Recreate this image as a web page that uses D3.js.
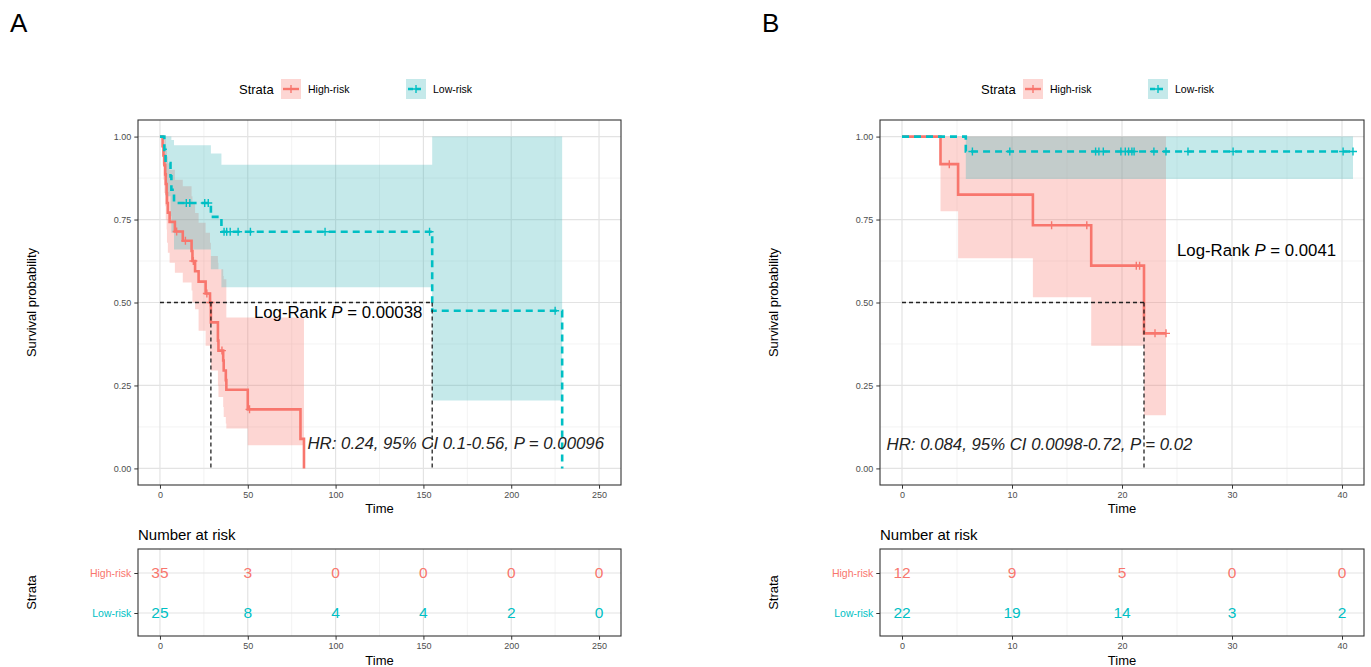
<!DOCTYPE html>
<meta charset="utf-8">
<script src="https://d3js.org/d3.v7.min.js"></script>
<style>
body { margin: 0; background: #fff; }
text { font-family: "Liberation Sans", Arial, sans-serif; }
.tick text { font-size: 9px; fill: #4d4d4d; }
.axisTitle { font-size: 13px; fill: #000; }
</style>
<body>
<svg id="chart" width="1371" height="667"></svg>
<script>

const strata = ["High-risk", "Low-risk"];
const colors = ["#F8766D", "#00BFC4"];
const bandColors = ["#F8766D", "#3FB6B8"];
const survBreaks = [0, 0.25, 0.5, 0.75, 1];
const survMinor = [0.125, 0.375, 0.625, 0.875];

// ---- panel A ----
const aBreaks = [0, 50, 100, 150, 200, 250];
const aHighTime = [0, 1.5, 2, 2.5, 3, 3.3, 3.8, 4, 4.5, 5.5, 8.5, 13, 18, 18.5, 20, 22, 26, 28.5, 29, 33, 33.3, 36, 36.3, 37.5, 37.8, 50, 80, 82];
const aHighSurv = [1, 0.971, 0.943, 0.914, 0.886, 0.857, 0.829, 0.80, 0.771, 0.743, 0.714, 0.686, 0.655, 0.625, 0.594, 0.563, 0.527, 0.50, 0.44, 0.385, 0.355, 0.325, 0.295, 0.266, 0.237, 0.178, 0.089, 0];
const aHighLower = [1, 0.915, 0.87, 0.83, 0.79, 0.75, 0.72, 0.68, 0.65, 0.62, 0.59, 0.56, 0.536, 0.50, 0.48, 0.415, 0.37, 0.33, 0.295, 0.25, 0.215, 0.185, 0.155, 0.135, 0.12, 0.07, 0.07, 0.07];
const aHighUpper = [1, 1, 1, 1, 0.99, 0.97, 0.96, 0.94, 0.92, 0.90, 0.87, 0.85, 0.82, 0.80, 0.77, 0.74, 0.71, 0.68, 0.64, 0.62, 0.60, 0.58, 0.57, 0.57, 0.455, 0.455, 0.455, 0.455];
const aHighCensor = [9.5, 14.5, 19, 26.7, 28.7, 35.3, 51];

const aLowTime = [0, 2.5, 3.2, 6, 6.5, 8, 29, 35, 155, 229];
const aLowSurv = [1, 0.96, 0.92, 0.88, 0.84, 0.80, 0.758, 0.713, 0.475, 0];
const aLowLower = [1, 0.886, 0.82, 0.76, 0.71, 0.66, 0.60, 0.546, 0.205, 0.205];
const aLowUpper = [1, 1, 1, 1, 0.99, 0.974, 0.949, 0.915, 1, 1];
const aLowCensor = [15, 17, 25.5, 27.5, 36.5, 38, 40, 44.5, 51.5, 94, 153.5, 225];

const aMedian = [29, 155];
const aRiskHigh = [35, 3, 0, 0, 0, 0];
const aRiskLow = [25, 8, 4, 4, 2, 0];

// ---- panel B ----
const bBreaks = [0, 10, 20, 30, 40];
const bHighTime = [0, 3.5, 5.1, 11.9, 17.2, 22, 24];
const bHighSurv = [1, 0.917, 0.825, 0.733, 0.611, 0.407, 0.407];
const bHighLower = [1, 0.775, 0.633, 0.516, 0.37, 0.16, 0.16];
const bHighUpper = [1, 1, 1, 1, 1, 1, 1];
const bHighCensor = [4.3, 13.6, 16.8, 21.3, 21.6, 23, 24];

const bLowTime = [0, 5.8, 41];
const bLowSurv = [1, 0.955, 0.955];
const bLowLower = [1, 0.872, 0.872];
const bLowUpper = [1, 1, 1];
const bLowCensor = [6.4, 9.8, 17.6, 17.9, 18.3, 19.9, 20.3, 20.6, 20.9, 21.1, 22.9, 24, 26, 30.1, 40.1, 41];

const bMedian = [22];
const bRiskHigh = [12, 9, 5, 0, 0];
const bRiskLow = [22, 19, 14, 3, 2];

const panels = [
  {
    label: "A", labelX: 10, left: 138, right: 621, xDomain: [-12.5, 262.5], breaks: aBreaks,
    curves: [
      {time: aHighTime, surv: aHighSurv, lo: aHighLower, up: aHighUpper, cens: aHighCensor},
      {time: aLowTime, surv: aLowSurv, lo: aLowLower, up: aLowUpper, cens: aLowCensor}
    ],
    medians: aMedian, risk: [aRiskHigh, aRiskLow],
    logrank: {t: 53.5, s: 0.452, p: "0.00038"},
    hr: {t: 84, s: 0.057, text: "HR: 0.24, 95% CI 0.1-0.56, P = 0.00096"}
  },
  {
    label: "B", labelX: 762, left: 880, right: 1364, xDomain: [-2, 42], breaks: bBreaks,
    curves: [
      {time: bHighTime, surv: bHighSurv, lo: bHighLower, up: bHighUpper, cens: bHighCensor},
      {time: bLowTime, surv: bLowSurv, lo: bLowLower, up: bLowUpper, cens: bLowCensor}
    ],
    medians: bMedian, risk: [bRiskHigh, bRiskLow],
    logrank: {t: 25, s: 0.639, p: "0.0041"},
    hr: {t: -1.4, s: 0.054, text: "HR: 0.084, 95% CI 0.0098-0.72, P = 0.02"}
  }
];

const svg = d3.select("#chart");
const plotTop = 120, plotBottom = 485;
const riskTop = 549, riskBottom = 636;

function minorOf(br) {
  const out = [];
  for (let i = 0; i < br.length - 1; i++) out.push((br[i] + br[i + 1]) / 2);
  return out;
}

function plus(sel, color) {
  sel.append("path")
    .attr("d", "M-4,0H4M0,-4V4")
    .attr("stroke", color)
    .attr("stroke-width", 1.4)
    .attr("fill", "none");
}

function stepAt(c, t) {
  let i = d3.bisectRight(c.time, t) - 1;
  return c.surv[Math.max(0, i)];
}

function styleAxis(g) {
  g.select(".domain").remove();
  g.selectAll(".tick line").attr("stroke", "#333").attr("stroke-width", 1);
}

panels.forEach(p => {
  const g = svg.append("g");
  const x = d3.scaleLinear().domain(p.xDomain).range([p.left, p.right]);
  const y = d3.scaleLinear().domain([-0.05, 1.05]).range([plotBottom, plotTop]);
  const minor = minorOf(p.breaks);

  // panel label
  g.append("text").attr("x", p.labelX).attr("y", 32)
    .style("font-size", "26px").text(p.label);

  // legend
  const lx = p.left + 101, ly = 89;
  g.append("text").attr("x", lx).attr("y", ly).attr("dy", "0.35em")
    .style("font-size", "13px").text("Strata");
  [0, 1].forEach(i => {
    const kx = lx + 42 + i * 125;
    const k = g.append("g").attr("transform", `translate(${kx},${ly})`);
    k.append("rect").attr("x", 0).attr("y", -10).attr("width", 20).attr("height", 20)
      .attr("fill", bandColors[i]).attr("fill-opacity", 0.3);
    k.append("line").attr("x1", 2).attr("x2", 18).attr("y1", 0).attr("y2", 0)
      .attr("stroke", colors[i]).attr("stroke-width", 2.4)
      .attr("stroke-dasharray", i === 1 ? "5,3" : null);
    plus(k.append("g").attr("transform", "translate(10,0)"), colors[i]);
    g.append("text").attr("x", kx + 27).attr("y", ly).attr("dy", "0.35em")
      .style("font-size", "10.5px").text(strata[i]);
  });

  // grid
  const grid = g.append("g");
  minor.forEach(v => grid.append("line").attr("x1", x(v)).attr("x2", x(v)).attr("y1", plotTop).attr("y2", plotBottom)
    .attr("stroke", "#ebebeb").attr("stroke-width", 0.6));
  survMinor.forEach(v => grid.append("line").attr("x1", p.left).attr("x2", p.right).attr("y1", y(v)).attr("y2", y(v))
    .attr("stroke", "#ebebeb").attr("stroke-width", 0.6));
  p.breaks.forEach(v => grid.append("line").attr("x1", x(v)).attr("x2", x(v)).attr("y1", plotTop).attr("y2", plotBottom)
    .attr("stroke", "#e3e3e3").attr("stroke-width", 1.2));
  survBreaks.forEach(v => grid.append("line").attr("x1", p.left).attr("x2", p.right).attr("y1", y(v)).attr("y2", y(v))
    .attr("stroke", "#e3e3e3").attr("stroke-width", 1.2));

  // confidence bands
  const area = d3.area().curve(d3.curveStepAfter)
    .x(d => x(d.t)).y0(d => y(d.lo)).y1(d => y(d.up));
  [0, 1].forEach(i => {
    const c = p.curves[i];
    const pts = c.time.map((t, j) => ({t: t, lo: c.lo[j], up: c.up[j]}));
    g.append("path").attr("d", area(pts)).attr("fill", bandColors[i]).attr("fill-opacity", 0.3);
  });

  // survival curves
  const line = d3.line().curve(d3.curveStepAfter).x(d => x(d.t)).y(d => y(d.s));
  [0, 1].forEach(i => {
    const c = p.curves[i];
    const pts = c.time.map((t, j) => ({t: t, s: c.surv[j]}));
    g.append("path").attr("d", line(pts)).attr("fill", "none")
      .attr("stroke", colors[i]).attr("stroke-width", 2.6)
      .attr("stroke-dasharray", i === 1 ? "7,5" : null);
    c.cens.forEach(t => plus(g.append("g").attr("transform", `translate(${x(t)},${y(stepAt(c, t))})`), colors[i]));
  });

  // median lines
  const mMax = d3.max(p.medians);
  g.append("line").attr("x1", x(0)).attr("x2", x(mMax)).attr("y1", y(0.5)).attr("y2", y(0.5))
    .attr("stroke", "#222").attr("stroke-width", 1.3).attr("stroke-dasharray", "4,3");
  p.medians.forEach(m => g.append("line").attr("x1", x(m)).attr("x2", x(m)).attr("y1", y(0.5)).attr("y2", y(0))
    .attr("stroke", "#222").attr("stroke-width", 1.3).attr("stroke-dasharray", "4,3"));

  // annotations
  const lr = g.append("text").attr("x", x(p.logrank.t)).attr("y", y(p.logrank.s))
    .style("font-size", "16.8px");
  lr.append("tspan").text("Log-Rank ");
  lr.append("tspan").style("font-style", "italic").text("P");
  lr.append("tspan").text(" = " + p.logrank.p);
  g.append("text").attr("x", x(p.hr.t)).attr("y", y(p.hr.s))
    .style("font-size", "16.8px").style("font-style", "italic").attr("fill", "#222").text(p.hr.text);

  // border
  g.append("rect").attr("x", p.left).attr("y", plotTop).attr("width", p.right - p.left).attr("height", plotBottom - plotTop)
    .attr("fill", "none").attr("stroke", "#333").attr("stroke-width", 1.1);

  // axes
  g.append("g").attr("transform", `translate(0,${plotBottom})`)
    .call(d3.axisBottom(x).tickValues(p.breaks).tickSize(3.7).tickPadding(3))
    .call(styleAxis);
  g.append("g").attr("transform", `translate(${p.left},0)`)
    .call(d3.axisLeft(y).tickValues(survBreaks).tickFormat(d3.format(".2f")).tickSize(3.7).tickPadding(3))
    .call(styleAxis);
  g.append("text").attr("class", "axisTitle").attr("x", (p.left + p.right) / 2).attr("y", 508)
    .attr("dy", "0.35em").attr("text-anchor", "middle").text("Time");
  g.append("text").attr("class", "axisTitle")
    .attr("transform", `translate(${p.left - 107},${(plotTop + plotBottom) / 2}) rotate(-90)`)
    .attr("dy", "0.35em").attr("text-anchor", "middle").text("Survival probability");

  // ---- risk table ----
  const ry = d3.scalePoint().domain(strata).range([573, 613]);
  g.append("text").attr("x", p.left).attr("y", 540).style("font-size", "15px").text("Number at risk");
  minor.forEach(v => g.append("line").attr("x1", x(v)).attr("x2", x(v)).attr("y1", riskTop).attr("y2", riskBottom)
    .attr("stroke", "#ebebeb").attr("stroke-width", 0.6));
  p.breaks.forEach(v => g.append("line").attr("x1", x(v)).attr("x2", x(v)).attr("y1", riskTop).attr("y2", riskBottom)
    .attr("stroke", "#e3e3e3").attr("stroke-width", 1.2));
  strata.forEach(s => g.append("line").attr("x1", p.left).attr("x2", p.right).attr("y1", ry(s)).attr("y2", ry(s))
    .attr("stroke", "#e3e3e3").attr("stroke-width", 1.2));
  strata.forEach((s, i) => {
    g.selectAll(null).data(p.risk[i]).join("text")
      .attr("x", (d, j) => x(p.breaks[j])).attr("y", ry(s)).attr("dy", "0.35em")
      .attr("text-anchor", "middle").style("font-size", "15.5px").attr("fill", colors[i])
      .text(d => d);
  });
  g.append("rect").attr("x", p.left).attr("y", riskTop).attr("width", p.right - p.left).attr("height", riskBottom - riskTop)
    .attr("fill", "none").attr("stroke", "#333").attr("stroke-width", 1.1);
  g.append("g").attr("transform", `translate(0,${riskBottom})`)
    .call(d3.axisBottom(x).tickValues(p.breaks).tickSize(3.7).tickPadding(3))
    .call(styleAxis);
  const ya = g.append("g").attr("transform", `translate(${p.left},0)`)
    .call(d3.axisLeft(ry).tickSize(3.7).tickPadding(3))
    .call(styleAxis);
  ya.selectAll(".tick text").style("font-size", "10.5px").style("fill", (d, i) => colors[i]);
  g.append("text").attr("class", "axisTitle").attr("x", (p.left + p.right) / 2).attr("y", 660)
    .attr("dy", "0.35em").attr("text-anchor", "middle").text("Time");
  g.append("text").attr("class", "axisTitle")
    .attr("transform", `translate(${p.left - 107},${(riskTop + riskBottom) / 2}) rotate(-90)`)
    .attr("dy", "0.35em").attr("text-anchor", "middle").text("Strata");
});

</script>
</body>
